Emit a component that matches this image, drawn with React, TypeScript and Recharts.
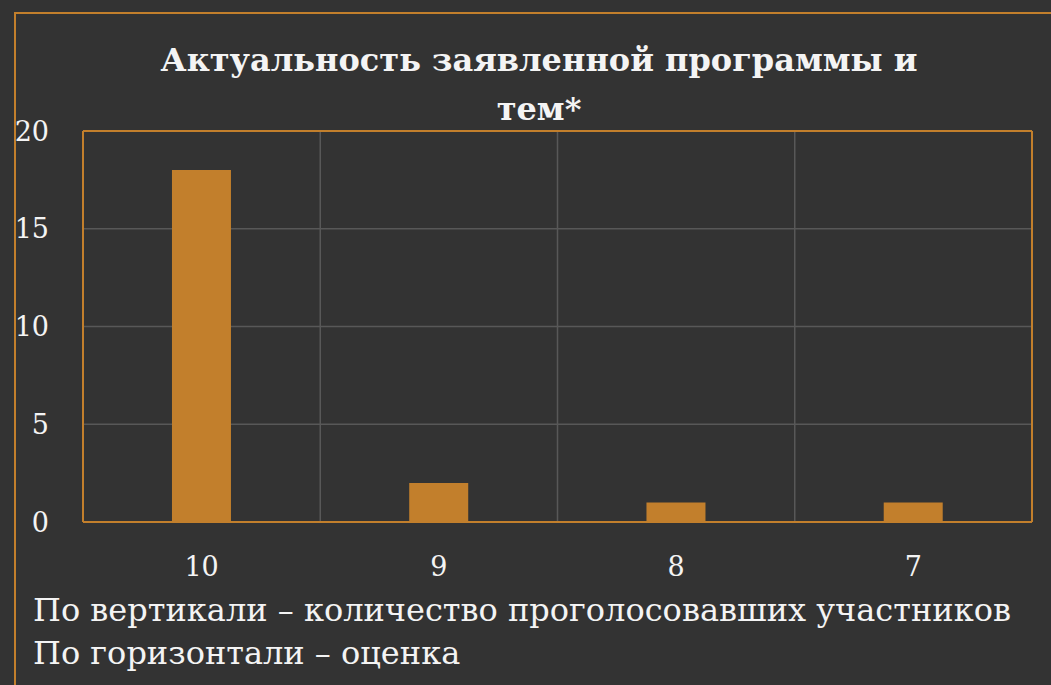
import {
  BarChart,
  Bar,
  XAxis,
  YAxis,
  CartesianGrid,
  ReferenceLine,
} from 'recharts';

const categories = ['10', '9', '8', '7'];
const votes = [18, 2, 1, 1];
const yTicks = [0, 5, 10, 15, 20];

const data = categories.map((score, i) => ({ score, votes: votes[i] }));

const ORANGE = '#c27f2c';
const FONT = "'DejaVu Serif', serif";

export default function App() {
  return (
    <div
      style={{
        position: 'relative',
        width: 1051,
        height: 685,
        overflow: 'hidden',
        background: '#333333',
        fontFamily: FONT,
        color: '#f4f4f4',
      }}
    >
      <style>{'body{margin:0;background:#333333}'}</style>

      {/* outer frame */}
      <div
        style={{
          position: 'absolute',
          left: 14,
          top: 12,
          width: 1100,
          height: 700,
          borderLeft: `2px solid ${ORANGE}`,
          borderTop: `2px solid ${ORANGE}`,
        }}
      />

      {/* title */}
      <div
        style={{
          position: 'absolute',
          left: 139,
          top: 36,
          width: 800,
          textAlign: 'center',
          fontSize: 32,
          lineHeight: '49px',
          fontWeight: 'bold',
        }}
      >
        Актуальность заявленной программы и
        <br />
        тем*
      </div>

      <div style={{ position: 'absolute', left: 0, top: 0 }}>
        <BarChart
          width={1051}
          height={685}
          data={data}
          margin={{ top: 131, right: 19, bottom: 103, left: 0 }}
          barCategoryGap="37.5%"
        >
          <CartesianGrid
            stroke="#585858"
            strokeWidth={1.5}
            verticalCoordinatesGenerator={({ offset }: any) =>
              [1, 2, 3].map(
                (i) => offset.left + (offset.width * i) / categories.length
              )
            }
          />
          <XAxis
            dataKey="score"
            height={60}
            tickSize={0}
            tickMargin={35}
            axisLine={{ stroke: ORANGE, strokeWidth: 2 }}
            tick={{ fill: '#f4f4f4', fontSize: 27, fontFamily: FONT }}
          />
          <YAxis
            width={83}
            domain={[0, 20]}
            ticks={yTicks}
            tickSize={0}
            tickMargin={34}
            axisLine={{ stroke: ORANGE, strokeWidth: 2 }}
            tick={{ fill: '#f4f4f4', fontSize: 27, fontFamily: FONT }}
          />

          {/* plot frame: top and right */}
          <ReferenceLine y={20} stroke={ORANGE} strokeWidth={2} />
          <ReferenceLine
            x={categories[categories.length - 1]}
            position="end"
            stroke={ORANGE}
            strokeWidth={2}
          />

          <Bar dataKey="votes" fill={ORANGE} isAnimationActive={false} />
        </BarChart>
      </div>

      {/* axis explanation */}
      <div
        style={{
          position: 'absolute',
          left: 33,
          top: 589,
          fontSize: 32,
          lineHeight: '43px',
          whiteSpace: 'nowrap',
        }}
      >
        По вертикали – количество проголосовавших участников
        <br />
        По горизонтали – оценка
      </div>
    </div>
  );
}
